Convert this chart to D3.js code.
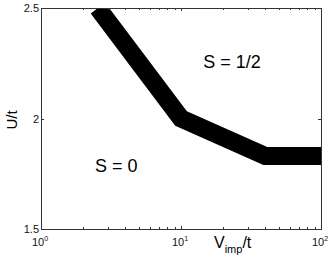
<!DOCTYPE html>
<html><head><meta charset="utf-8">
<script src="https://cdn.jsdelivr.net/npm/d3@7"></script>
<style>
body{margin:0;background:#fff;}
text{font-family:"Liberation Sans",Arial,Helvetica,sans-serif;}
</style></head>
<body><svg id="c" width="332" height="260"></svg>
<script>
const boundaryV = [2.55, 10, 40, 100];
const boundaryU = [2.5, 2.0, 1.83, 1.83];
const xMajor = [1, 10, 100];
const xExp = ["0", "1", "2"];
const yTicks = [1.5, 2, 2.5];
const yTickLabels = ["1.5", "2", "2.5"];
const regionText = ["S = 1/2", "S = 0"];
const regionV = [14.4, 2.43];
const regionU = [2.229, 1.758];

const svg = d3.select("#c");
const m = {l: 41, t: 8, w: 280, h: 221};
const x = d3.scaleLog().domain([1, 100]).range([m.l, m.l + m.w]);
const y = d3.scaleLinear().domain([1.5, 2.5]).range([m.t + m.h, m.t]);

svg.append("defs").append("clipPath").attr("id", "clip")
  .append("rect").attr("x", m.l).attr("y", m.t).attr("width", m.w).attr("height", m.h);

const pts = boundaryV.map((v, i) => [v, boundaryU[i]]);
svg.append("path").datum(pts)
  .attr("clip-path", "url(#clip)")
  .attr("d", d3.line().x(d => x(d[0])).y(d => y(d[1])))
  .attr("fill", "none").attr("stroke", "#000").attr("stroke-width", 18)
  .attr("stroke-linejoin", "miter").attr("stroke-linecap", "butt");

// ticks
const axc = "#333";
const allX = x.ticks();
allX.forEach(v => {
  const major = xMajor.includes(v);
  const L = major ? 3 : 2;
  const px = Math.round(x(v)) + 0.5;
  svg.append("line").attr("x1", px).attr("x2", px).attr("y1", m.t + m.h).attr("y2", m.t + m.h - L).attr("stroke", axc);
  svg.append("line").attr("x1", px).attr("x2", px).attr("y1", m.t).attr("y2", m.t + L).attr("stroke", axc);
});
yTicks.forEach(v => {
  const py = Math.round(y(v)) + 0.5;
  svg.append("line").attr("x1", m.l).attr("x2", m.l + 3).attr("y1", py).attr("y2", py).attr("stroke", axc);
  svg.append("line").attr("x1", m.l + m.w).attr("x2", m.l + m.w - 3).attr("y1", py).attr("y2", py).attr("stroke", axc);
});
svg.append("rect").attr("x", m.l + 0.5).attr("y", m.t + 0.5).attr("width", m.w).attr("height", m.h)
  .attr("fill", "none").attr("stroke", axc);

// y tick labels
yTicks.forEach((v, i) => {
  svg.append("text").attr("x", m.l - 2).attr("y", y(v) + 4)
    .attr("text-anchor", "end").attr("font-size", 11).attr("fill", "#111").text(yTickLabels[i]);
});
// x tick labels 10^n
xMajor.forEach((v, i) => {
  const t = svg.append("text").attr("x", x(v) - 1).attr("y", 246)
    .attr("text-anchor", "middle").attr("font-size", 11).attr("fill", "#111");
  t.append("tspan").text("10");
  t.append("tspan").attr("font-size", 7).attr("dy", -5).text(xExp[i]);
});

// axis labels
const xl = svg.append("text").attr("x", 214).attr("y", 248).attr("font-size", 16).attr("fill", "#000");
xl.append("tspan").text("V");
xl.append("tspan").attr("font-size", 11).attr("dy", 5).text("imp");
xl.append("tspan").attr("dy", -5).text("/t");

svg.append("text").attr("transform", "translate(17,120) rotate(-90)")
  .attr("text-anchor", "middle").attr("font-size", 15).attr("fill", "#000").text("U/t");

// region labels
regionText.forEach((s, i) => {
  svg.append("text").attr("x", x(regionV[i])).attr("y", y(regionU[i]))
    .attr("font-size", 18).attr("fill", "#000").text(s);
});
</script></body></html>
